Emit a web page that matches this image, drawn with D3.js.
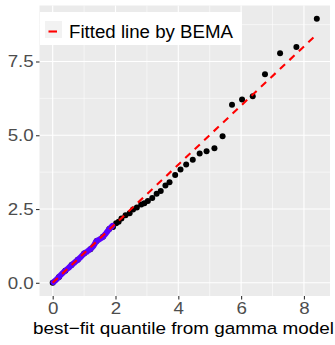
<!DOCTYPE html>
<html><head><meta charset="utf-8">
<script src="https://cdn.jsdelivr.net/npm/d3@7"></script>
<style>body{margin:0;background:#fff}svg{display:block}</style>
</head><body>
<svg id="c" width="335" height="345"></svg>
<script>
// Black points: empirical vs fitted quantiles
const ptX = [0, 0.2, 0.4, 0.6, 0.8, 1.0, 1.2, 1.4, 1.6, 1.8, 1.92, 2.02, 2.10, 2.19, 2.32, 2.45, 2.56, 2.68, 2.82, 2.92, 3.03, 3.17, 3.31, 3.44, 3.59, 3.72, 3.90, 4.07, 4.25, 4.46, 4.68, 4.90, 5.15, 5.41, 5.71, 6.03, 6.37, 6.76, 7.24, 7.76, 8.41];
const ptY = [0, 0.2, 0.41, 0.6, 0.78, 0.99, 1.14, 1.42, 1.56, 1.82, 1.89, 2.02, 2.07, 2.18, 2.29, 2.36, 2.48, 2.55, 2.65, 2.70, 2.77, 2.87, 3.02, 3.11, 3.30, 3.41, 3.65, 3.84, 4.01, 4.17, 4.38, 4.46, 4.56, 4.97, 6.03, 6.21, 6.32, 7.07, 7.78, 7.99, 8.95];
// Blue (fitted region) points
const blueX = [0.02, 0.1, 0.2, 0.3, 0.4, 0.5, 0.6, 0.7, 0.8, 0.9, 1.0, 1.1, 1.2, 1.3, 1.4, 1.5, 1.6, 1.7, 1.8, 1.9];
const blueY = [0.02, 0.09, 0.2, 0.31, 0.41, 0.5, 0.6, 0.69, 0.78, 0.88, 0.99, 1.06, 1.14, 1.25, 1.42, 1.48, 1.56, 1.68, 1.82, 1.93];
// Fitted line by BEMA
const lineX = [0, 8.39];
const lineY = [0, 8.40];
const xTicks = [0, 2, 4, 6, 8];
const yTicks = [0, 2.5, 5, 7.5];
const xMinor = [1, 3, 5, 7];
const yMinor = [1.25, 3.75, 6.25, 8.75];
const legendLabel = "Fitted line by BEMA";
const xTitle = "best\u2212fit quantile from gamma model";

const FONT = "Liberation Sans, Arial, sans-serif";
const SX = 1.15; // horizontal stretch of text in the reference
const svg = d3.select("#c");
const L = 39.5, R = 330, T = 5.5, B = 296;
const x = d3.scaleLinear().domain([-0.42, 8.83]).range([L, R]);
const y = d3.scaleLinear().domain([-0.4475, 9.3975]).range([B, T]);

svg.append("rect").attr("x", L).attr("y", T).attr("width", R - L).attr("height", B - T).attr("fill", "#EBEBEB");
const g = svg.append("g");
g.selectAll(".xm").data(xMinor).join("line").attr("x1", d => x(d)).attr("x2", d => x(d)).attr("y1", T).attr("y2", B).attr("stroke", "#fff").attr("stroke-width", 0.55);
g.selectAll(".ym").data(yMinor).join("line").attr("y1", d => y(d)).attr("y2", d => y(d)).attr("x1", L).attr("x2", R).attr("stroke", "#fff").attr("stroke-width", 0.55);
g.selectAll(".xM").data(xTicks).join("line").attr("x1", d => x(d)).attr("x2", d => x(d)).attr("y1", T).attr("y2", B).attr("stroke", "#fff").attr("stroke-width", 1.1);
g.selectAll(".yM").data(yTicks).join("line").attr("y1", d => y(d)).attr("y2", d => y(d)).attr("x1", L).attr("x2", R).attr("stroke", "#fff").attr("stroke-width", 1.1);

// Axes
const xAxis = svg.append("g").attr("transform", `translate(0,${B})`)
  .call(d3.axisBottom(x).tickValues(xTicks).tickSize(3.5).tickPadding(2.5).tickFormat(d3.format("d")));
const yAxis = svg.append("g").attr("transform", `translate(${L},0)`)
  .call(d3.axisLeft(y).tickValues(yTicks).tickSize(3.5).tickPadding(2).tickFormat(d3.format(".1f")));
[xAxis, yAxis].forEach(a => {
  a.select(".domain").remove();
  a.selectAll(".tick line").attr("stroke", "#333333").attr("stroke-width", 1.1);
  a.selectAll(".tick text").attr("fill", "#4D4D4D").attr("font-family", FONT).attr("font-size", 16.3)
    .attr("transform", `scale(${SX},1)`);
});
yAxis.selectAll(".tick text").attr("x", -5.8 / SX);

// Points
svg.append("g").selectAll("circle").data(ptX.map((d, i) => [d, ptY[i]])).join("circle")
  .attr("cx", d => x(d[0])).attr("cy", d => y(d[1])).attr("r", 3).attr("fill", "#000");

// Blue fitted-region points
const blue = blueX.map((d, i) => [d, blueY[i]]);
svg.append("path").datum(blue).attr("d", d3.line().x(d => x(d[0])).y(d => y(d[1])).curve(d3.curveCatmullRom))
  .attr("fill", "none").attr("stroke", "#5A00FF").attr("stroke-width", 5.8).attr("stroke-linecap", "round").attr("stroke-linejoin", "round");

// Fitted line
svg.append("line").attr("x1", x(lineX[0])).attr("y1", y(lineY[0])).attr("x2", x(lineX[1])).attr("y2", y(lineY[1]))
  .attr("stroke", "#FF0000").attr("stroke-width", 2.1).attr("stroke-dasharray", "7,6");

// Legend
svg.append("rect").attr("x", 40).attr("y", 12).attr("width", 202).attr("height", 33).attr("fill", "#fff");
svg.append("rect").attr("x", 45).attr("y", 21).attr("width", 17).attr("height", 17).attr("fill", "#F2F2F2");
svg.append("line").attr("x1", 48.5).attr("x2", 57).attr("y1", 31.5).attr("y2", 31.5).attr("stroke", "#FF0000").attr("stroke-width", 2.1);
svg.append("text").attr("x", 69).attr("y", 37.5).attr("font-family", FONT).attr("font-size", 17.5).attr("fill", "#000")
  .attr("textLength", 164).attr("lengthAdjust", "spacingAndGlyphs").text(legendLabel);

// Axis title
svg.append("text").attr("x", 33).attr("y", 333.5)
  .attr("font-family", FONT).attr("font-size", 17.2).attr("fill", "#000")
  .attr("textLength", 301).attr("lengthAdjust", "spacingAndGlyphs").text(xTitle);
</script>
</body></html>
